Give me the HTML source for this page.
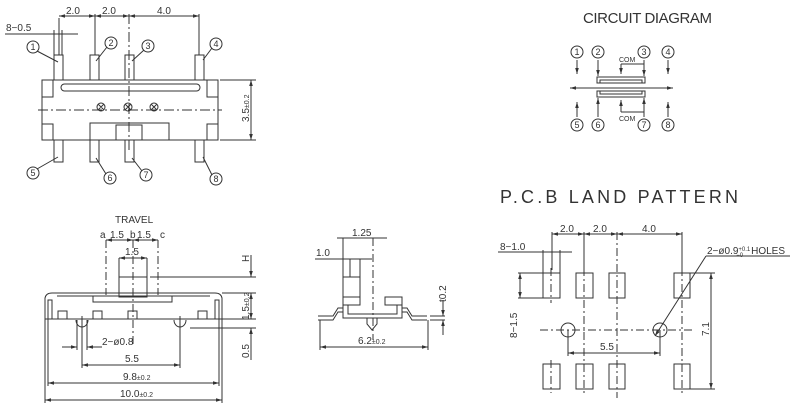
<!DOCTYPE html>
<html><head><meta charset="utf-8"><style>
html,body{margin:0;padding:0;background:#fff}
svg{display:block}
text{font-family:"Liberation Sans",sans-serif;fill:#333}
</style></head><body>
<svg width="800" height="419" viewBox="0 0 800 419" xmlns="http://www.w3.org/2000/svg">
<defs>
<marker id="a" viewBox="0 0 10 10" refX="10" refY="5" markerWidth="6" markerHeight="6" orient="auto-start-reverse"><path d="M0,2 L10,5 L0,8z" fill="#333"/></marker>
</defs>
<g stroke="#333" stroke-width="1" fill="none">
<line x1="59" y1="18" x2="59" y2="55"/><line x1="95" y1="14" x2="95" y2="55"/><line x1="129" y1="14" x2="129" y2="150" stroke-dasharray="10,3,2,3"/><line x1="199" y1="14" x2="199" y2="55"/>
<line x1="59" y1="16" x2="95" y2="16" marker-start="url(#a)" marker-end="url(#a)"/>
<line x1="95" y1="16" x2="129" y2="16" marker-start="url(#a)" marker-end="url(#a)"/>
<line x1="129" y1="16" x2="199" y2="16" marker-start="url(#a)" marker-end="url(#a)"/>
<line x1="5" y1="34" x2="78" y2="34"/><line x1="54" y1="30" x2="54" y2="55"/><line x1="62" y1="30" x2="62" y2="55"/>
<rect x="42" y="80" width="176" height="60"/>
<rect x="42" y="80" width="11" height="17"/><rect x="42" y="124" width="11" height="16"/>
<rect x="207" y="80" width="11" height="17"/><rect x="207" y="124" width="11" height="16"/>
<rect x="61" y="84" width="139" height="7" rx="3.5"/>
<line x1="38" y1="110" x2="222" y2="110" stroke-dasharray="10,3,2,3"/>
<circle cx="101" cy="107" r="4"/><circle cx="128" cy="107" r="4"/><circle cx="154" cy="107" r="4"/>
<path d="M98,104l6,6M104,104l-6,6M125,104l6,6M131,104l-6,6M151,104l6,6M157,104l-6,6"/>
<rect x="90" y="123" width="79" height="17"/><rect x="116" y="125" width="26" height="15"/>
<g>
<rect x="54" y="55" width="9" height="25"/><rect x="90" y="55" width="9" height="25"/><rect x="125" y="55" width="9" height="25"/><rect x="195" y="55" width="9" height="25"/>
<rect x="54" y="140" width="9" height="22"/><rect x="90" y="140" width="9" height="22"/><rect x="125" y="140" width="9" height="22"/><rect x="195" y="140" width="9" height="22"/>
</g>
<circle cx="33" cy="47" r="6"/><circle cx="111" cy="43" r="6"/><circle cx="148" cy="46" r="6"/><circle cx="216" cy="44" r="6"/>
<circle cx="33" cy="173" r="6"/><circle cx="110" cy="178" r="6"/><circle cx="146" cy="175" r="6"/><circle cx="216" cy="179" r="6"/>
<path d="M37,51L58,62M107,47L96,61M144,50L132,61M212,48L203,60M37,169L58,157M106,174L96,158M142,171L132,158M212,175L203,157"/>
<line x1="220" y1="80" x2="256" y2="80"/><line x1="220" y1="140" x2="256" y2="140"/>
<line x1="251" y1="80" x2="251" y2="140" marker-start="url(#a)" marker-end="url(#a)"/>

<line x1="106" y1="240" x2="106" y2="295" stroke-dasharray="8,3,2,3"/><line x1="133" y1="240" x2="133" y2="345" stroke-dasharray="8,3,2,3"/><line x1="158" y1="240" x2="158" y2="295" stroke-dasharray="8,3,2,3"/>
<line x1="106" y1="240" x2="133" y2="240" marker-start="url(#a)" marker-end="url(#a)"/>
<line x1="133" y1="240" x2="158" y2="240" marker-start="url(#a)" marker-end="url(#a)"/>
<line x1="119" y1="258" x2="119" y2="277"/><line x1="147" y1="258" x2="147" y2="277"/>
<line x1="119" y1="258" x2="147" y2="258" marker-start="url(#a)" marker-end="url(#a)"/>
<rect x="119" y="277" width="28" height="20"/>
<path d="M45,319 L45,298 Q46,293 52,293 L215,293 Q221,293 222,298 L222,319 Z"/>
<line x1="57" y1="296" x2="210" y2="296"/>
<rect x="93" y="296" width="79" height="6"/>
<rect x="48" y="300" width="4" height="19"/><rect x="215" y="300" width="4" height="19"/>
<rect x="58" y="311" width="9" height="8"/><rect x="93" y="311" width="9" height="8"/><rect x="128" y="311" width="9" height="8"/><rect x="198" y="311" width="9" height="8"/>
<path d="M76,320 A6,7 0 0 0 88,320 M174,320 A6,7 0 0 0 186,320"/>
<line x1="82" y1="316" x2="82" y2="368"/><line x1="180" y1="316" x2="180" y2="368"/>
<line x1="77" y1="320" x2="77" y2="350"/><line x1="87" y1="320" x2="87" y2="350"/>
<line x1="62" y1="347" x2="77" y2="347" marker-end="url(#a)"/><line x1="102" y1="347" x2="87" y2="347" marker-end="url(#a)"/>
<line x1="82" y1="365" x2="180" y2="365" marker-start="url(#a)" marker-end="url(#a)"/>
<line x1="48" y1="319" x2="48" y2="386"/><line x1="219" y1="319" x2="219" y2="386"/>
<line x1="45" y1="319" x2="45" y2="403"/><line x1="222" y1="319" x2="222" y2="403"/>
<line x1="48" y1="383" x2="219" y2="383" marker-start="url(#a)" marker-end="url(#a)"/>
<line x1="45" y1="400" x2="222" y2="400" marker-start="url(#a)" marker-end="url(#a)"/>
<line x1="150" y1="277" x2="256" y2="277"/><line x1="222" y1="293" x2="256" y2="293"/><line x1="222" y1="319" x2="256" y2="319"/><line x1="190" y1="328" x2="256" y2="328"/>
<line x1="251" y1="255" x2="251" y2="277" marker-end="url(#a)"/>
<line x1="251" y1="293" x2="251" y2="319" marker-start="url(#a)" marker-end="url(#a)"/>
<line x1="251" y1="328" x2="251" y2="360" marker-start="url(#a)"/>

<line x1="337" y1="238" x2="387" y2="238"/><line x1="343" y1="238" x2="343" y2="277"/><line x1="373" y1="238" x2="373" y2="340" stroke-dasharray="8,3,2,3"/>
<line x1="315" y1="259" x2="372" y2="259"/><line x1="343" y1="259" x2="343" y2="277"/><line x1="350" y1="259" x2="350" y2="277"/><line x1="360" y1="259" x2="360" y2="277"/>
<rect x="343" y="277" width="17" height="20"/>
<rect x="343" y="297" width="17" height="8"/><rect x="385" y="297" width="17" height="8"/>
<path d="M343,297 L343,318 L402,318 L402,297 M348,305 L348,314 L397,314 L397,305"/>
<path d="M318,316 L333,316 L338,308 L343,308 M318,320 L333,320 L338,312 L343,312 M427,316 L412,316 L407,308 L402,308 M427,320 L412,320 L407,312 L402,312"/>
<path d="M367,318 L367,324 L372,330 L377,324 L377,318"/>
<line x1="320" y1="320" x2="320" y2="350"/><line x1="428" y1="320" x2="428" y2="350"/>
<line x1="320" y1="347" x2="428" y2="347" marker-start="url(#a)" marker-end="url(#a)"/>
<line x1="430" y1="316" x2="445" y2="316"/><line x1="430" y1="320" x2="445" y2="320"/>
<line x1="443" y1="300" x2="443" y2="316" marker-end="url(#a)"/><line x1="443" y1="335" x2="443" y2="320" marker-end="url(#a)"/>

<circle cx="577" cy="52" r="6"/><circle cx="598" cy="52" r="6"/><circle cx="644" cy="52" r="6"/><circle cx="668" cy="52" r="6"/>
<circle cx="577" cy="125" r="6"/><circle cx="598" cy="125" r="6"/><circle cx="644" cy="125" r="6"/><circle cx="668" cy="125" r="6"/>
<line x1="577" y1="60" x2="577" y2="74" marker-end="url(#a)"/><line x1="598" y1="60" x2="598" y2="76" marker-end="url(#a)"/><line x1="644" y1="60" x2="644" y2="76" marker-end="url(#a)"/><line x1="668" y1="60" x2="668" y2="74" marker-end="url(#a)"/>
<line x1="577" y1="117" x2="577" y2="102" marker-end="url(#a)"/><line x1="598" y1="117" x2="598" y2="98" marker-end="url(#a)"/><line x1="644" y1="117" x2="644" y2="98" marker-end="url(#a)"/><line x1="668" y1="117" x2="668" y2="102" marker-end="url(#a)"/>
<line x1="621" y1="64" x2="621" y2="74" marker-end="url(#a)"/><line x1="621" y1="64" x2="644" y2="64"/>
<line x1="621" y1="112" x2="621" y2="100" marker-end="url(#a)"/><line x1="621" y1="112" x2="644" y2="112"/>
<path d="M597,83 L597,77 L645,77 L645,83 Z M600,83 L600,80 L642,80 L642,83"/>
<path d="M597,91 L597,97 L645,97 L645,91 Z M600,91 L600,94 L642,94 L642,91"/>
<line x1="570" y1="88" x2="673" y2="88" marker-start="url(#a)" marker-end="url(#a)"/>

<g>
<rect x="543" y="273" width="17" height="25"/><rect x="576" y="273" width="17" height="25"/><rect x="609" y="273" width="16" height="25"/><rect x="674" y="273" width="16" height="25"/>
<rect x="543" y="364" width="17" height="25"/><rect x="576" y="364" width="17" height="25"/><rect x="609" y="364" width="16" height="25"/><rect x="674" y="364" width="16" height="25"/>
</g>
<g stroke-dasharray="8,3,2,3">
<line x1="551" y1="268" x2="551" y2="303"/><line x1="584" y1="268" x2="584" y2="393"/><line x1="617" y1="232" x2="617" y2="398"/><line x1="682" y1="268" x2="682" y2="393"/><line x1="551" y1="360" x2="551" y2="393"/>
<line x1="540" y1="330" x2="695" y2="330"/>
</g>
<line x1="552" y1="232" x2="552" y2="270"/><line x1="584" y1="232" x2="584" y2="270"/><line x1="682" y1="232" x2="682" y2="270"/>
<line x1="552" y1="234" x2="584" y2="234" marker-start="url(#a)" marker-end="url(#a)"/>
<line x1="584" y1="234" x2="617" y2="234" marker-start="url(#a)" marker-end="url(#a)"/>
<line x1="617" y1="234" x2="682" y2="234" marker-start="url(#a)" marker-end="url(#a)"/>
<line x1="498" y1="252" x2="572" y2="252"/><line x1="543" y1="250" x2="543" y2="273"/><line x1="560" y1="250" x2="560" y2="273"/>
<line x1="518" y1="273" x2="543" y2="273"/><line x1="518" y1="298" x2="543" y2="298"/>
<line x1="520" y1="273" x2="520" y2="298" marker-start="url(#a)" marker-end="url(#a)"/>
<line x1="690" y1="273" x2="715" y2="273"/><line x1="690" y1="389" x2="715" y2="389"/>
<line x1="711" y1="273" x2="711" y2="389" marker-start="url(#a)" marker-end="url(#a)"/>
<circle cx="568" cy="330" r="7"/><circle cx="660" cy="330" r="7"/>
<line x1="568" y1="330" x2="568" y2="356"/><line x1="660" y1="330" x2="660" y2="356"/>
<line x1="568" y1="353" x2="660" y2="353" marker-start="url(#a)" marker-end="url(#a)"/>
<line x1="790" y1="256" x2="706" y2="256"/><line x1="706" y1="256" x2="655" y2="336" marker-end="url(#a)"/>
</g>
<g font-size="10">
<text x="66" y="14">2.0</text><text x="102" y="14">2.0</text><text x="157" y="14">4.0</text>
<text x="6" y="31">8−0.5</text>
<g font-size="9" text-anchor="middle">
<text x="33" y="50">1</text><text x="111" y="46">2</text><text x="148" y="49">3</text><text x="216" y="47">4</text>
<text x="33" y="176">5</text><text x="110" y="181">6</text><text x="146" y="178">7</text><text x="216" y="182">8</text>
<text x="577" y="55">1</text><text x="598" y="55">2</text><text x="644" y="55">3</text><text x="668" y="55">4</text>
<text x="577" y="128">5</text><text x="598" y="128">6</text><text x="644" y="128">7</text><text x="668" y="128">8</text>
</g>
<text transform="translate(249,122) rotate(-90)">3.5<tspan font-size="7">±0.2</tspan></text>
<text x="115" y="223">TRAVEL</text>
<text x="100" y="238">a</text><text x="110" y="238">1.5</text><text x="130" y="238">b</text><text x="137" y="238">1.5</text><text x="160" y="238">c</text>
<text x="125" y="255">1.5</text>
<text x="102" y="345">2−ø0.8</text>
<text x="125" y="362">5.5</text>
<text x="123" y="380">9.8<tspan font-size="7">±0.2</tspan></text>
<text x="120" y="397">10.0<tspan font-size="7">±0.2</tspan></text>
<text transform="translate(249,262) rotate(-90)">H</text>
<text transform="translate(249,320) rotate(-90)">1.5<tspan font-size="7">±0.2</tspan></text>
<text transform="translate(249,358) rotate(-90)">0.5</text>
<text x="352" y="236">1.25</text><text x="316" y="256">1.0</text>
<text x="358" y="344">6.2<tspan font-size="7">±0.2</tspan></text>
<text transform="translate(446,302) rotate(-90)">t0.2</text>
<text x="583" y="23" style="font-size:15px" fill="#555" textLength="129" lengthAdjust="spacing">CIRCUIT DIAGRAM</text>
<text x="619" y="62" font-size="7">COM</text><text x="619" y="121" font-size="7">COM</text>
<text x="500" y="203" style="font-size:18px" fill="#555" textLength="238" lengthAdjust="spacing">P.C.B LAND PATTERN</text>
<text x="560" y="232">2.0</text><text x="593" y="232">2.0</text><text x="642" y="232">4.0</text>
<text x="500" y="250">8−1.0</text>
<text transform="translate(517,338) rotate(-90)">8−1.5</text>
<text transform="translate(709,336) rotate(-90)">7.1</text>
<text x="600" y="350">5.5</text>
<text x="707" y="254">2−ø0.9<tspan font-size="6" dy="-3">+0.1</tspan><tspan font-size="6" dx="-14" dy="6">−0</tspan><tspan dy="-3" dx="8">HOLES</tspan></text>
</g>
</svg>
</body></html>
